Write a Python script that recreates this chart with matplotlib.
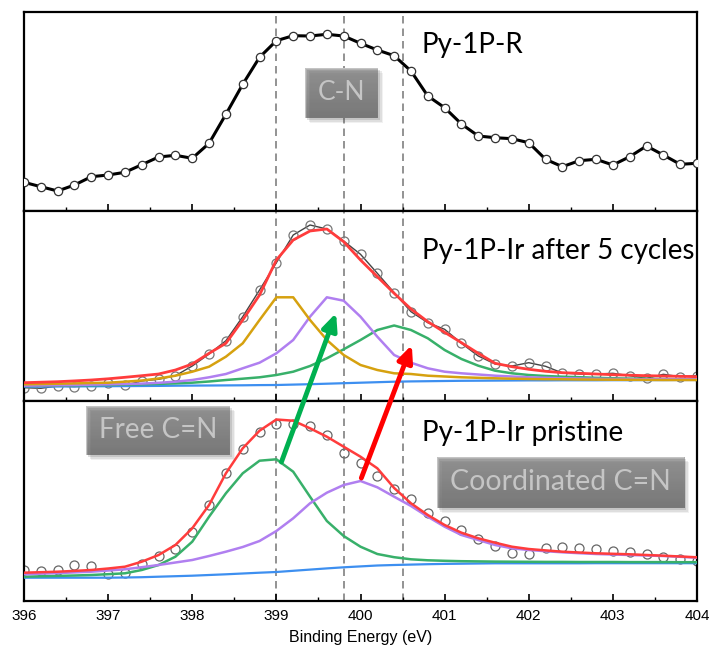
import numpy as np
import matplotlib
matplotlib.use('Agg')
import matplotlib.pyplot as plt
from matplotlib.patches import Rectangle
from matplotlib.colors import LinearSegmentedColormap
from matplotlib.ticker import MultipleLocator

plt.rcParams['font.family'] = ['Liberation Sans', 'DejaVu Sans']

W, H = 710, 647

# binding energy grid (eV)
energy = [396.0, 396.2, 396.4, 396.6, 396.8, 397.0, 397.2, 397.4, 397.6, 397.8,
          398.0, 398.2, 398.4, 398.6, 398.8, 399.0, 399.2, 399.4, 399.6, 399.8,
          400.0, 400.2, 400.4, 400.6, 400.8, 401.0, 401.2, 401.4, 401.6, 401.8,
          402.0, 402.2, 402.4, 402.6, 402.8, 403.0, 403.2, 403.4, 403.6, 403.8,
          404.0]

# Py-1P-R (top panel)
r_data = [28.7, 24.3, 20, 26, 34.3, 36, 38.7, 46.3, 54, 55.7,
          52.7, 67.7, 96.7, 126.7, 153.7, 170.3, 175.3, 175, 176.7, 175,
          167.7, 161, 155.3, 140, 115, 103.3, 87, 75, 73.3, 72.3,
          68.3, 51.7, 44.3, 50.3, 51.7, 46, 54.3, 65, 56, 46.7,
          47.7]

# Py-1P-Ir after 5 cycles (middle panel)
cyc_data = [13.3, 12.7, 15, 14.3, 15.3, 18.3, 15.7, 20, 21.7, 25.3,
            35, 47, 60.3, 84.3, 111, 138.3, 166, 176, 172, 160,
            146.7, 127.7, 108.3, 89.3, 78.3, 71.7, 57.7, 45, 37, 35,
            38.3, 34.7, 28, 27, 27, 27.7, 25.3, 22.7, 26.7, 24.3,
            25.3]
cyc_fit = [18.3, 18.8, 19.3, 20.1, 21, 22.2, 23.7, 25.3, 27, 31,
           37, 47.7, 57.7, 81, 106, 141, 161, 170, 172, 159.3,
           141, 124.3, 107.7, 92, 79.3, 68.7, 58.3, 47.7, 37.7, 34.3,
           31.7, 29.7, 28.3, 27.7, 27, 26.3, 25.8, 25.3, 25, 24.7,
           24.3]
cyc_orange = [16.7, 17, 17.3, 17.6, 18, 18.3, 19.3, 20.5, 22.5, 25.3,
              29.3, 34.3, 44.3, 57.7, 81, 103.7, 103.7, 81, 61, 46,
              36, 31, 27.7, 27, 25.3, 24.5, 23.7, 23.2, 22.7, 22.3,
              22, 21.8, 21.7, 21.5, 21.4, 21.3, 21.2, 21.1, 21, 21,
              21]
cyc_purple = [15.3, 15.6, 15.8, 16, 16.3, 16.7, 17, 17.4, 18.2, 19.3,
              21, 23.7, 27, 32.7, 38.3, 47.7, 61, 84.3, 103.7, 100.3,
              84.3, 64.3, 46, 38.3, 32.7, 29.3, 27.7, 26.5, 25.3, 24.5,
              23.7, 23.2, 22.7, 22.5, 22.2, 22, 21.9, 21.8, 21.8, 21.7,
              21.7]
cyc_green = [15, 15.2, 15.4, 15.6, 15.8, 16, 16.3, 16.7, 17.1, 17.6,
             18.3, 19.5, 21, 22.3, 23.7, 26, 29.3, 35, 42.7, 51.7,
             61, 71, 75.5, 71, 62.7, 51, 42, 35.3, 30.3, 27.7,
             26, 25, 24.3, 23.8, 23.2, 22.7, 22.4, 22.2, 22, 21.8,
             21.7]
cyc_bg = [14.3, 14.4, 14.5, 14.6, 14.7, 14.8, 14.9, 15, 15.1, 15.3,
          15.4, 15.5, 15.6, 15.7, 15.9, 16, 16.4, 16.8, 17.3, 17.8,
          18.3, 18.8, 19.3, 19.6, 19.8, 20, 20.2, 20.3, 20.4, 20.5,
          20.6, 20.6, 20.7, 20.7, 20.7, 20.8, 20.8, 20.9, 20.9, 21,
          21]

# Py-1P-Ir pristine (bottom panel)
pri_data = [31, 30, 31, 36, 35, 26.7, 27.7, 37, 45.3, 51.7,
            68.7, 96, 128.3, 151.7, 168.7, 177, 176.7, 175, 166, 148.3,
            137.7, 125, 112, 102, 88.3, 80.3, 71, 61.7, 55.3, 47.7,
            47, 52.7, 54.3, 52.7, 52, 50.3, 49.3, 47, 44.3, 41.7,
            40.3]
pri_fit = [28.3, 28.8, 29.3, 30.1, 31, 32.5, 34.3, 39.3, 46, 56,
           72.7, 96, 127.7, 152.7, 170.3, 181.5, 180.3, 172.7, 164.3, 154.3,
           144.3, 132.7, 113, 97.7, 86, 76, 68.3, 62.7, 58.3, 54.3,
           52, 50.6, 49.3, 48.5, 47.7, 47.2, 46.7, 46, 45.3, 44.5,
           43.7]
pri_green = [24.3, 24.7, 25.1, 25.5, 26, 26.8, 27.7, 31, 36, 44.3,
             59.3, 84.3, 107.7, 127.7, 140.3, 141.7, 129.3, 104.3, 80, 65,
             54.3, 47, 43.8, 41.7, 40.7, 40.2, 39.8, 39.6, 39.4, 39.3,
             39.2, 39.1, 39.1, 39, 39, 39, 38.9, 38.9, 38.9, 38.8,
             38.8]
pri_purple = [26.7, 27.3, 27.9, 28.6, 29.3, 30.5, 31.7, 33.8, 36, 38.5,
              41, 45, 49.3, 54, 60, 70, 82.7, 97.7, 108.3, 116,
              120, 113.7, 104.3, 95, 84.3, 74.3, 66, 61, 56, 52.7,
              51, 49.8, 48.7, 47.8, 47, 46.5, 46, 45.5, 45, 44.2,
              43.3]
pri_bg = [23.3, 23.3, 23.3, 23.3, 23.3, 23.3, 23.5, 23.8, 24.3, 24.8,
          25.3, 26, 26.7, 27.5, 28.3, 29, 30.2, 31.4, 32.6, 33.7,
          34.6, 35.5, 36, 36.4, 36.8, 37.1, 37.3, 37.5, 37.7, 37.7,
          37.7, 37.7, 37.7, 37.7, 37.8, 37.8, 37.8, 37.8, 37.8, 37.8,
          37.8]

peak_lines = [399.0, 399.8, 400.5]

RED = '#ff3c3c'
ORANGE = '#d6a10f'
PURPLE = '#b07ff0'
GREEN = '#38b06a'
BLUE = '#3d8ff0'

fig = plt.figure(figsize=(W / 100, H / 100), dpi=100)
gs = fig.add_gridspec(3, 1, height_ratios=[199, 190, 200], hspace=0,
                      left=24 / W, right=697 / W, top=1 - 12 / H, bottom=1 - 601 / H)
ax_top = fig.add_subplot(gs[0])
ax_mid = fig.add_subplot(gs[1])
ax_bot = fig.add_subplot(gs[2])

for ax, ymax in [(ax_top, 199), (ax_mid, 190), (ax_bot, 200)]:
    ax.set_xlim(396, 404)
    ax.set_ylim(0, ymax)
    ax.set_yticks([])
    for s in ax.spines.values():
        s.set_linewidth(1.6)
    for xv in peak_lines:
        ax.axvline(xv, color='#808080', lw=1.2, ls=(0, (4.5, 3)), zorder=1)
    ax.xaxis.set_major_locator(MultipleLocator(1))
    ax.xaxis.set_minor_locator(MultipleLocator(0.5))
    ax.tick_params(axis='x', which='major', direction='in', length=5, width=1.2)
    ax.tick_params(axis='x', which='minor', direction='in', length=3, width=1.0)

ax_top.tick_params(axis='x', which='both', labelbottom=False)
ax_mid.tick_params(axis='x', which='both', labelbottom=False)

# top: raw spectrum
ax_top.plot(energy, r_data, color='black', lw=2.2, marker='o', ms=6,
            mfc='white', mec='#333333', mew=0.9, zorder=3)

# middle: fitted spectrum
ax_mid.plot(energy, cyc_data, color='#444444', lw=1.0, marker='o', ms=6.5,
            mfc='none', mec='#777777', mew=0.9, zorder=2)
ax_mid.plot(energy, cyc_bg, color=BLUE, lw=1.6, zorder=3)
ax_mid.plot(energy, cyc_green, color=GREEN, lw=1.8, zorder=3)
ax_mid.plot(energy, cyc_purple, color=PURPLE, lw=1.8, zorder=3)
ax_mid.plot(energy, cyc_orange, color=ORANGE, lw=1.8, zorder=3)
ax_mid.plot(energy, cyc_fit, color=RED, lw=2.0, zorder=4)

# bottom: fitted spectrum
ax_bot.plot(energy, pri_data, ls='none', marker='o', ms=6.5,
            mfc='none', mec='#666666', mew=0.9, zorder=2)
ax_bot.plot(energy, pri_bg, color=BLUE, lw=1.6, zorder=3)
ax_bot.plot(energy, pri_green, color=GREEN, lw=1.8, zorder=3)
ax_bot.plot(energy, pri_purple, color=PURPLE, lw=1.8, zorder=3)
ax_bot.plot(energy, pri_fit, color=RED, lw=1.8, zorder=4)

ax_bot.tick_params(axis='x', labelsize=11, pad=6)
ax_bot.set_xlabel('Binding Energy (eV)', fontsize=11.5, labelpad=5)

label_kw = dict(family=['Lato', 'DejaVu Sans'], fontsize=20, ha='left', va='center')
ax_top.text(400.73, 165.5, 'Py-1P-R', **label_kw)
ax_mid.text(400.73, 149.5, 'Py-1P-Ir after 5 cycles', clip_on=True, **label_kw)
ax_bot.text(400.73, 168.5, 'Py-1P-Ir pristine', **label_kw)

# arrows from the pristine peaks to the cycled peaks
ax_bot.annotate('', xy=(399.71, 88), xycoords=ax_mid.transData,
                xytext=(399.06, 139), textcoords='data', annotation_clip=False,
                arrowprops=dict(arrowstyle='-|>,head_length=1.0,head_width=0.45',
                                color='#00b050', lw=3.5, shrinkA=0, shrinkB=0),
                zorder=10)
ax_bot.annotate('', xy=(400.61, 56), xycoords=ax_mid.transData,
                xytext=(400.01, 123), textcoords='data', annotation_clip=False,
                arrowprops=dict(arrowstyle='-|>,head_length=1.0,head_width=0.45',
                                color='#ff0000', lw=3.5, shrinkA=0, shrinkB=0),
                zorder=10)

box_cmap = LinearSegmentedColormap.from_list('box', ['#b0b0b0', '#8b8b8b'])


def gray_box(x0, y0, x1, y1, text, size):
    for off, a in [(5, 0.08), (3.5, 0.12), (2, 0.18)]:
        fig.patches.append(Rectangle(((x0 + off) / W, 1 - (y1 + off) / H),
                                     (x1 - x0) / W, (y1 - y0) / H,
                                     transform=fig.transFigure, color='#555555',
                                     alpha=a, lw=0, zorder=5))
    bax = fig.add_axes([x0 / W, 1 - y1 / H, (x1 - x0) / W, (y1 - y0) / H])
    grad = np.linspace(0, 1, 64).reshape(-1, 1)
    bax.imshow(grad, cmap=box_cmap, aspect='auto', extent=[0, 1, 0, 1])
    bax.set_xlim(0, 1)
    bax.set_ylim(0, 1)
    bax.set_axis_off()
    bax.add_patch(Rectangle((0, 0), 1, 1, transform=bax.transAxes, fill=False,
                            ec='#c4c4c4', lw=0.8))
    bax.text(0.5, 0.5, text, color='white', ha='center', va='center',
             fontsize=size, family=['Lato', 'DejaVu Sans'])


gray_box(305, 68, 378, 118, 'C-N', 19)
gray_box(86, 406, 230, 455, 'Free C=N', 20)
gray_box(437, 457, 684, 508, 'Coordinated C=N', 20.5)

fig.savefig('out.png', dpi=100)
